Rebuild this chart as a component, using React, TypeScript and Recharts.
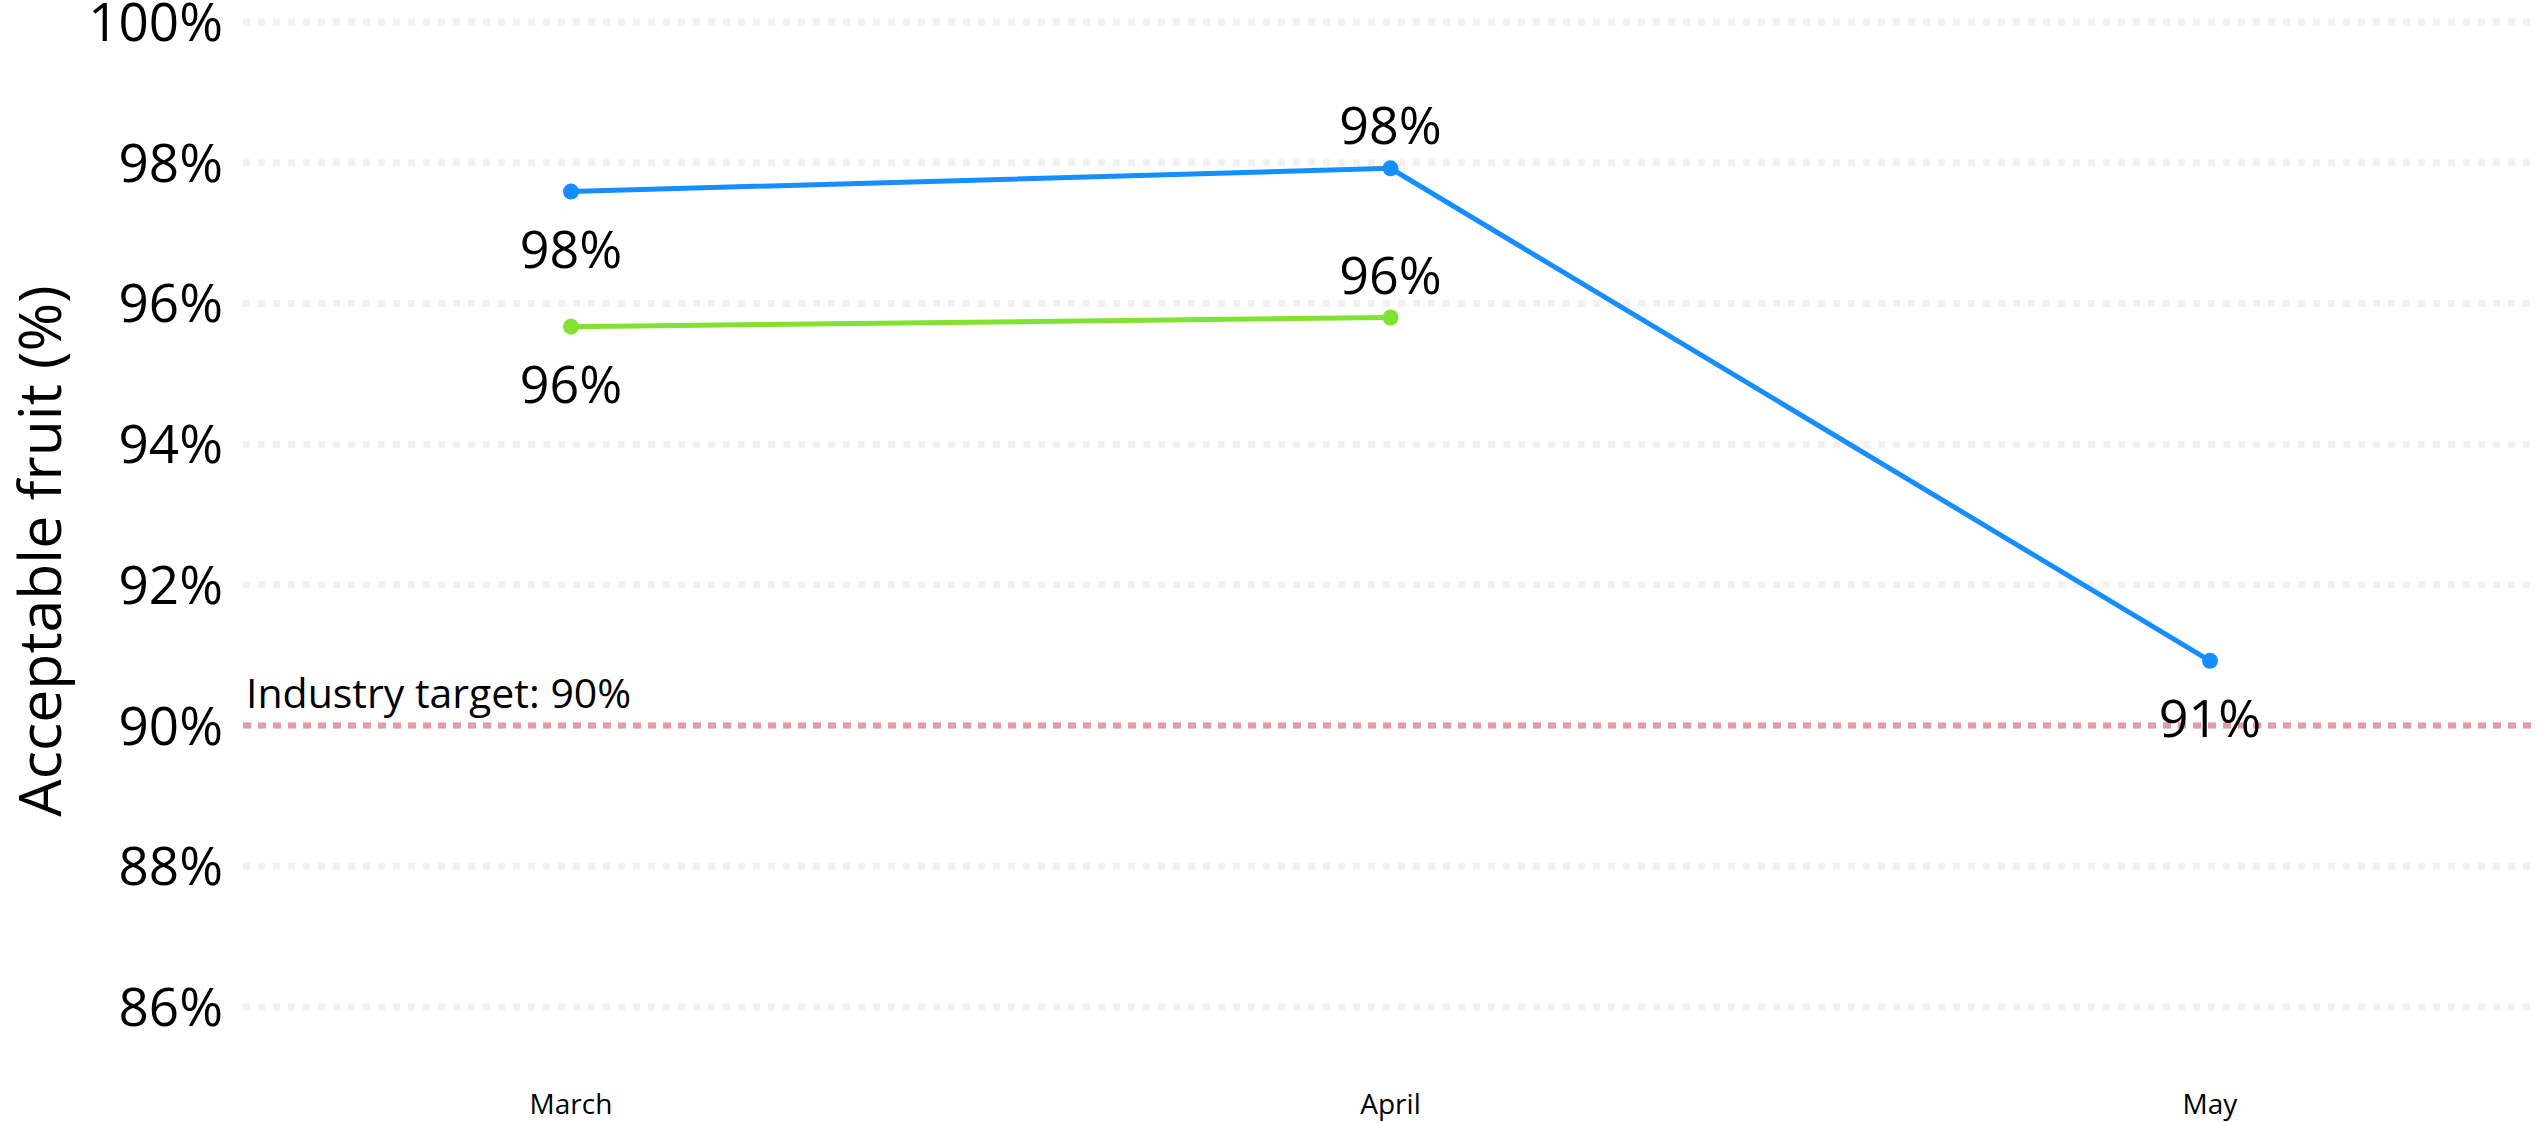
import React from 'react';
import {
    LineChart, Line, XAxis, YAxis, CartesianGrid, ReferenceLine, LabelList
} from 'recharts';

const months = ['March', 'April', 'May'];
const blueSeries = [97.59, 97.92, 90.92];
const greenSeries = [95.67, 95.8, null];

const yTicks = [86, 88, 90, 92, 94, 96, 98, 100];
const TARGET = 90;

const data = months.map((m, i) => ({ month: m, blue: blueSeries[i], green: greenSeries[i] }));

const W = 2538;
const H = 1122;
const BLUE = '#168EFF';
const GREEN = '#80E331';
const RED = '#E49CA1';
const GRID = '#F3F1EF';
const FONT = '"Open Sans", "Noto Sans", sans-serif';

const YTick = (props: any) => {
    const { x, y, payload } = props;
    return (
        <text x={x} y={y + 19} textAnchor="end" fontSize={53} fontFamily={FONT} fill="#000">
            {payload.value}%
        </text>
    );
};

const XTick = (props: any) => {
    const { x, y, payload } = props;
    return (
        <text x={x} y={y + 99} textAnchor="middle" fontSize={28} fontFamily={FONT} fill="#000">
            {payload.value}
        </text>
    );
};

const pointLabel = (props: any) => {
    const { x, y, value, index } = props;
    if (value == null) return null;
    const above = index === 1;
    return (
        <text x={x} y={above ? y - 24 : y + 76} textAnchor="middle" fontSize={52} fontFamily={FONT} fill="#000">
            {Math.round(value)}%
        </text>
    );
};

const targetLabel = (props: any) => {
    const { viewBox } = props;
    return (
        <text x={viewBox.x + 3} y={viewBox.y - 18} fontSize={41} fontFamily={FONT} fill="#000">
            Industry target: {TARGET}%
        </text>
    );
};

const yTitle = () => (
    <text x={61} y={551} transform="rotate(-90, 61, 551)" textAnchor="middle"
        fontSize={59} fontFamily={FONT} fill="#000">
        Acceptable fruit (%)
    </text>
);

export default function App() {
    return (
        <div style={{ position: 'absolute', left: 0, top: 0, width: W, height: H, background: '#fff' }}>
            <LineChart width={W} height={H} data={data} margin={{ top: 22, right: 0, bottom: 0, left: 0 }}>
                <CartesianGrid horizontal vertical={false} stroke={GRID} strokeWidth={7} strokeDasharray="7 8" />
                <XAxis dataKey="month" type="category" padding={{ left: 328, right: 328 }}
                    tick={<XTick />} tickLine={false} axisLine={false} height={115} interval={0} />
                <YAxis type="number" domain={[86, 100]} ticks={yTicks} tick={<YTick />}
                    tickLine={false} axisLine={false} width={243} tickMargin={14} interval={0}
                    label={yTitle} />
                <ReferenceLine y={TARGET} stroke={RED} strokeWidth={6} strokeDasharray="8 7" label={targetLabel} />
                <Line dataKey="blue" stroke={BLUE} strokeWidth={5} isAnimationActive={false}
                    dot={{ r: 8, fill: BLUE, stroke: 'none' }} activeDot={false}>
                    <LabelList dataKey="blue" content={pointLabel} />
                </Line>
                <Line dataKey="green" stroke={GREEN} strokeWidth={5} isAnimationActive={false}
                    dot={{ r: 8, fill: GREEN, stroke: 'none' }} activeDot={false}>
                    <LabelList dataKey="green" content={pointLabel} />
                </Line>
            </LineChart>
        </div>
    );
}
